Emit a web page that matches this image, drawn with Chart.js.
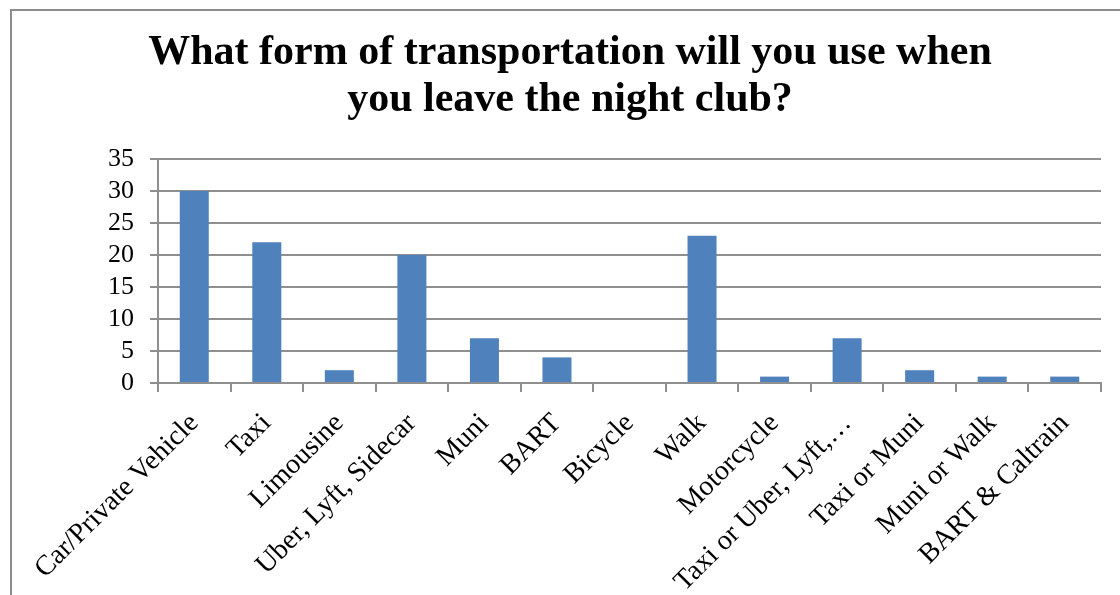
<!DOCTYPE html>
<html>
<head>
<meta charset="utf-8">
<script src="https://cdn.jsdelivr.net/npm/chart.js@4/dist/chart.umd.min.js"></script>
<style>
  html, body { margin: 0; padding: 0; background: #fff; }
  #wrap { position: relative; width: 1120px; height: 595px; overflow: hidden; }
  #frame { position: absolute; left: 10px; top: 9px; width: 1300px; height: 800px;
           border-top: 2px solid #8c8c8c; border-left: 2px solid #8c8c8c; }
  canvas { position: absolute; left: 0; top: 0; }
</style>
</head>
<body>
<div id="wrap">
  <div id="frame"></div>
  <canvas id="c" width="1120" height="595"></canvas>
</div>
<script>
const titleLines = ["What form of transportation will you use when", "you leave the night club?"];
const categories = ["Car/Private Vehicle", "Taxi", "Limousine", "Uber, Lyft, Sidecar", "Muni", "BART",
  "Bicycle", "Walk", "Motorcycle", "Taxi or Uber, Lyft,\u2026", "Taxi or Muni", "Muni or Walk", "BART & Caltrain"];
const counts = [30, 22, 2, 20, 7, 4, 0, 23, 1, 7, 2, 1, 1];
const yMin = 0, yMax = 35, yStep = 5;

const SERIF = "'Liberation Serif', 'DejaVu Serif', serif";
const GRID = '#8f8f8f';
const PAD_LEFT = 39;

new Chart(document.getElementById('c'), {
  type: 'bar',
  data: {
    labels: categories,
    datasets: [{
      data: counts,
      backgroundColor: '#4F81BD',
      borderWidth: 0,
      barPercentage: 0.4,
      categoryPercentage: 1.0
    }]
  },
  options: {
    responsive: false,
    animation: false,
    devicePixelRatio: 1,
    layout: { padding: { left: PAD_LEFT, right: 19, top: 0, bottom: 0 } },
    plugins: {
      legend: { display: false },
      tooltip: { enabled: false },
      title: {
        display: true,
        text: titleLines,
        color: '#000',
        font: { family: SERIF, size: 42, weight: 'bold', lineHeight: 1.12 },
        padding: { top: 30, bottom: 35 }
      }
    },
    scales: {
      x: {
        grid: { display: true, drawOnChartArea: false, drawTicks: true, tickLength: 9, color: GRID, lineWidth: 2, offset: true },
        border: { display: true, color: GRID, width: 2 },
        ticks: {
          color: '#000', autoSkip: false, minRotation: 45, maxRotation: 45, padding: 15,
          font: { family: SERIF, size: 28 }
        },
        afterFit: s => { s.height = 212; }
      },
      y: {
        min: yMin, max: yMax,
        grid: { color: GRID, lineWidth: 2, tickLength: 8, drawTicks: true },
        border: { display: true, color: GRID, width: 2 },
        ticks: { stepSize: yStep, autoSkip: false, color: '#000', padding: 16,
                 font: { family: SERIF, size: 26, lineHeight: 0.9 } },
        afterFit: s => { s.width = 158 - PAD_LEFT; }
      }
    }
  }
});
</script>
</body>
</html>
